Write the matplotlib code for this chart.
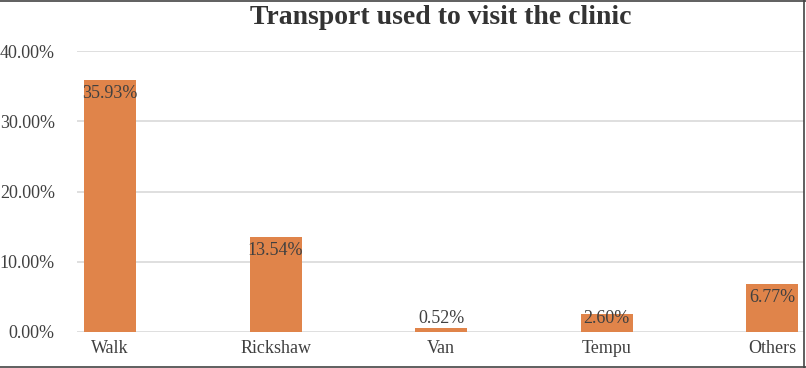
import numpy as np
import matplotlib.pyplot as plt
from matplotlib.lines import Line2D
from matplotlib.ticker import FuncFormatter

categories = ["Walk", "Rickshaw", "Van", "Tempu", "Others"]
shares = [35.93, 13.54, 0.52, 2.60, 6.77]
y_ticks = [0, 10, 20, 30, 40]

BAR = "#E0844A"
GRID = "#D9D9D9"
TEXT = "#404040"

plt.rcParams["font.family"] = ["Liberation Serif", "DejaVu Serif"]

fig = plt.figure(figsize=(8.06, 3.68), dpi=100)
ax = fig.add_axes([77 / 806, 36 / 368, 727 / 806, 281 / 368])

x = np.arange(len(categories))
ax.bar(x, shares, width=0.314, color=BAR, zorder=3)

# labels sit just inside the bar top, but never lower than near the axis
for xi, v in zip(x, shares):
    ax.text(xi, max(v - 1.92, 1.99), f"{v:.2f}%", ha="center", va="center",
            fontsize=13, color=TEXT, zorder=4)

ax.set_xlim(-0.2, 4.193)
ax.set_ylim(0, 40)
ax.set_yticks(y_ticks)
ax.yaxis.set_major_formatter(FuncFormatter(lambda v, p: f"{v:.2f}%"))
ax.set_xticks(x)
ax.set_xticklabels(categories)
ax.tick_params(length=0, labelsize=13, colors=TEXT)
ax.tick_params(axis="y", pad=16)
ax.tick_params(axis="x", pad=6)
ax.grid(axis="y", color=GRID, linewidth=1.2, zorder=0)
for s in ax.spines.values():
    s.set_visible(False)

fig.text(441 / 806, 1 - 17 / 368, "Transport used to visit the clinic",
         ha="center", va="center", fontsize=20, fontweight="bold", color="#333333")

# outer frame (top, right, bottom edges visible in the crop)
for xs, ys in [((0, 1), (0.997, 0.997)), ((0.9975, 0.9975), (0, 1)), ((0, 1), (0.004, 0.004))]:
    fig.add_artist(Line2D(xs, ys, color="#444444", linewidth=1.2, transform=fig.transFigure))

fig.savefig("out.png", dpi=100)
